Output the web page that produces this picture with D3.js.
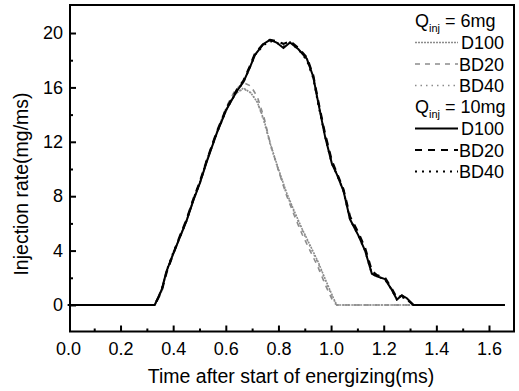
<!DOCTYPE html>
<html>
<head>
<meta charset="utf-8">
<script src="https://cdn.jsdelivr.net/npm/d3@7"></script>
<style>
  body { margin: 0; background: #fff; }
  svg text { font-family: "Liberation Sans", Arial, sans-serif; fill: #000; }
</style>
</head>
<body>
<svg width="519" height="391"></svg>
<script>
const svg = d3.select("svg");

// time axis (ms) and injection rate (mg/ms)
const t10 = [0, 0.33, 0.356, 0.375, 0.401, 0.426, 0.451, 0.477, 0.502, 0.527, 0.565, 0.603, 0.641, 0.667, 0.690, 0.711, 0.743, 0.768, 0.793, 0.819, 0.844, 0.876, 0.908, 0.932, 0.951, 0.977, 1.003, 1.022, 1.047, 1.072, 1.104, 1.129, 1.155, 1.174, 1.205, 1.231, 1.25, 1.269, 1.288, 1.313, 1.66];
const d100_10 = [0, 0, 1.1, 2.5, 3.8, 5.0, 6.2, 7.7, 9.0, 10.5, 12.6, 14.4, 15.7, 16.4, 17.4, 18.4, 19.2, 19.5, 19.3, 18.9, 19.3, 18.8, 18.1, 16.8, 14.9, 12.4, 10.4, 9.6, 8.4, 6.3, 5.1, 4.0, 2.3, 2.1, 1.9, 1.1, 0.4, 0.7, 0.5, 0, 0];
const bd20_10 = [0, 0, 1.0, 2.4, 3.8, 5.1, 6.3, 7.8, 9.1, 10.6, 12.7, 14.5, 15.8, 16.5, 17.5, 18.5, 19.2, 19.5, 19.4, 19.2, 19.4, 18.9, 18.2, 16.9, 15.0, 12.6, 10.6, 9.7, 8.5, 6.5, 5.3, 4.2, 2.5, 2.2, 2.0, 1.2, 0.5, 0.7, 0.4, 0, 0];
const bd40_10 = [0, 0, 1.1, 2.5, 3.9, 5.0, 6.2, 7.8, 9.0, 10.6, 12.6, 14.4, 15.7, 16.4, 17.4, 18.4, 19.1, 19.4, 19.3, 19.0, 19.3, 18.8, 18.0, 16.7, 14.8, 12.4, 10.4, 9.6, 8.4, 6.3, 5.1, 4.0, 2.3, 2.1, 1.9, 1.1, 0.4, 0.6, 0.4, 0, 0];

const t6 = [0, 0.33, 0.356, 0.375, 0.401, 0.426, 0.451, 0.477, 0.502, 0.527, 0.565, 0.603, 0.635, 0.667, 0.695, 0.72, 0.745, 0.77, 0.80, 0.83, 0.86, 0.89, 0.92, 0.95, 0.98, 1.009, 1.022, 1.66];
const d100_6 = [0, 0, 1.1, 2.5, 3.8, 5.0, 6.2, 7.7, 9.0, 10.5, 12.6, 14.4, 15.5, 15.95, 15.6, 14.9, 13.6, 11.8, 10.0, 8.3, 6.9, 5.6, 4.4, 3.2, 1.8, 0.5, 0, 0];
const bd20_6 = [0, 0, 1.0, 2.4, 3.8, 5.0, 6.2, 7.8, 9.1, 10.6, 12.7, 14.6, 15.8, 16.35, 16.1, 15.3, 13.8, 11.8, 9.9, 8.1, 6.6, 5.2, 4.0, 2.8, 1.4, 0.2, 0, 0];
const bd40_6 = [0, 0, 1.1, 2.5, 3.9, 5.0, 6.2, 7.7, 9.0, 10.5, 12.6, 14.4, 15.5, 15.9, 15.6, 14.9, 13.5, 11.7, 9.9, 8.2, 6.8, 5.5, 4.3, 3.1, 1.7, 0.4, 0, 0];

const xTicks = [0, 0.2, 0.4, 0.6, 0.8, 1.0, 1.2, 1.4, 1.6];
const yTicks = [0, 4, 8, 12, 16, 20];
const fuels = ["D100", "BD20", "BD40"];

const x = d3.scaleLinear().domain([0.008, 1.695]).range([70, 514]);
const y = d3.scaleLinear().domain([-1.95, 22.06]).range([331.5, 5]);

// line styles per fuel
const dash6 = ["2,1", "5,5", "1.5,4"];
const dash10 = [null, "7,6", "2,5"];

const series = [
  {t: t6, v: d100_6, color: "#8c8c8c", w: 1.6, dash: dash6[0]},
  {t: t6, v: bd20_6, color: "#8c8c8c", w: 1.6, dash: dash6[1]},
  {t: t6, v: bd40_6, color: "#8c8c8c", w: 1.6, dash: dash6[2]},
  {t: t10, v: d100_10, color: "#000", w: 2, dash: dash10[0]},
  {t: t10, v: bd20_10, color: "#000", w: 2.2, dash: dash10[1]},
  {t: t10, v: bd40_10, color: "#000", w: 2, dash: dash10[2]}
];

const line = d3.line()
    .x(function(d) { return x(d[0]); })
    .y(function(d) { return y(d[1]); });

svg.append("g").selectAll("path")
    .data(series)
    .enter().append("path")
    .attr("d", function(s) { return line(s.t.map(function(tt, i) { return [tt, s.v[i]]; })); })
    .attr("fill", "none")
    .attr("stroke", function(s) { return s.color; })
    .attr("stroke-width", function(s) { return s.w; })
    .attr("stroke-dasharray", function(s) { return s.dash; });

// axes, ticks pointing inward
const xAxis = svg.append("g")
    .attr("transform", "translate(0,331.5)")
    .call(d3.axisBottom(x).tickValues(xTicks).tickSize(-6).tickPadding(11)
      .tickFormat(d3.format(".1f")));
const xMinor = svg.append("g")
    .attr("transform", "translate(0,331.5)")
    .call(d3.axisBottom(x).tickValues(d3.range(0.1, 1.65, 0.2)).tickSize(-3).tickFormat(""));

const yAxis = svg.append("g")
    .attr("transform", "translate(70,0)")
    .call(d3.axisLeft(y).tickValues(yTicks).tickSize(-6).tickPadding(7));
const yMinor = svg.append("g")
    .attr("transform", "translate(70,0)")
    .call(d3.axisLeft(y).tickValues([2, 6, 10, 14, 18]).tickSize(-3).tickFormat(""));

[xAxis, xMinor, yAxis, yMinor].forEach(function(g) {
  g.select(".domain").remove();
  g.selectAll("line").attr("stroke", "#000").attr("stroke-width", 2);
  g.selectAll("text").style("font-size", "18px").style("font-family", "'Liberation Sans', Arial, sans-serif");
});
xAxis.selectAll(".tick").filter(function(d) { return d === 0; }).select("line").remove();

// frame
svg.append("rect")
    .attr("x", 70).attr("y", 5)
    .attr("width", 444).attr("height", 326.5)
    .attr("fill", "none").attr("stroke", "#000").attr("stroke-width", 2);

// axis titles
svg.append("text")
    .attr("x", 291).attr("y", 383)
    .attr("text-anchor", "middle")
    .style("font-size", "19.5px")
    .text("Time after start of energizing(ms)");

svg.append("text")
    .attr("transform", "translate(28,184) rotate(-90)")
    .attr("text-anchor", "middle")
    .style("font-size", "19.5px")
    .text("Injection rate(mg/ms)");

// legend
const legend = svg.append("g");
const groups = [
  {mass: "6mg", color: "#8c8c8c", w: 1.6, dashes: dash6},
  {mass: "10mg", color: "#000", w: 2, dashes: dash10}
];
groups.forEach(function(g, gi) {
  const top = 27 + gi * 86;
  const head = legend.append("text").attr("x", 415).attr("y", top).style("font-size", "18px");
  head.append("tspan").text("Q");
  head.append("tspan").attr("dy", 5).style("font-size", "11px").text("inj");
  head.append("tspan").attr("dy", -5).text(" = " + g.mass);
  fuels.forEach(function(f, i) {
    const yy = top + 21.5 * (i + 1) - 6;
    legend.append("line")
        .attr("x1", 415).attr("x2", 458)
        .attr("y1", yy).attr("y2", yy)
        .attr("stroke", g.color)
        .attr("stroke-width", g.w)
        .attr("stroke-dasharray", g.dashes[i]);
    legend.append("text")
        .attr("x", 504).attr("y", yy + 6.5)
        .attr("text-anchor", "end")
        .style("font-size", "18px")
        .text(f);
  });
});
</script>
</body>
</html>
